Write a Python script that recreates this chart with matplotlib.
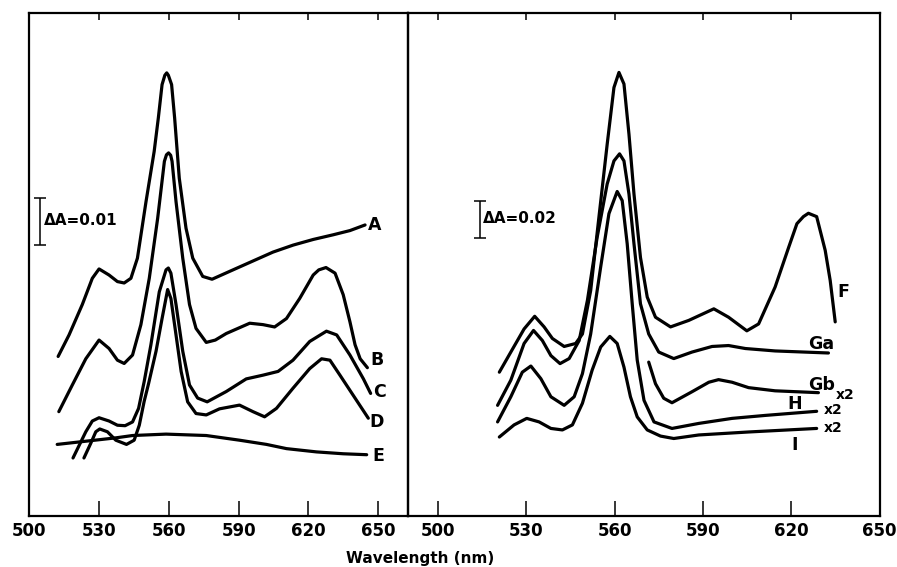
import matplotlib
matplotlib.use("Agg")
import matplotlib.pyplot as plt

plt.rcParams['font.family'] = ['DejaVu Sans']

# ---------------- data (relative absorbance, milli-A units) ----------------
# Left panel (scale bar dA = 0.01 -> 10 mA)
A_wl = [512.4, 517.1, 522.8, 527.1, 530.0, 534.3, 537.9, 540.8, 543.7, 546.5, 550.2, 553.7,
        555.5, 557.1, 558.3, 559.1, 559.8, 561.2, 562.5, 564.5, 567.4, 570.3, 574.6, 578.6,
        587.6, 596.2, 604.8, 613.5, 622.1, 630.7, 637.9, 644.4]
A_val = [34.1, 38.7, 45.2, 50.8, 52.8, 51.5, 50.1, 49.8, 50.8, 55.1, 67.2, 77.9,
         85.1, 92.2, 94.2, 94.7, 94.2, 92.2, 85.1, 72.2, 61.5, 55.1, 51.2, 50.6,
         52.6, 54.5, 56.4, 57.9, 59.1, 60.1, 61.0, 62.2]

B_wl = [512.7, 518.5, 524.3, 530.0, 534.3, 537.9, 540.8, 544.4, 548.0, 551.6, 555.2, 558.1,
        559.0, 559.9, 560.8, 561.4, 563.1, 566.0, 568.9, 571.7, 576.1, 580.0, 584.7, 594.8,
        600.5, 605.5, 610.6, 616.3, 622.1, 624.5, 627.6, 631.5, 635.0, 637.9, 640.1, 642.3,
        645.4]
B_val = [22.3, 28.0, 33.6, 37.6, 35.8, 33.3, 32.6, 34.4, 40.9, 50.8, 63.6, 75.8,
         77.2, 77.6, 77.1, 75.8, 67.2, 55.1, 45.2, 40.1, 37.1, 37.6, 39.0, 41.2,
         40.9, 40.4, 42.2, 46.5, 51.5, 52.6, 53.1, 51.9, 47.3, 41.5, 36.6, 33.6,
         31.7]

C_wl = [518.8, 524.3, 527.1, 530.0, 534.3, 537.9, 541.2, 544.4, 547.0, 549.4, 552.3, 555.9,
        558.8, 559.8, 560.9, 563.1, 566.0, 568.9, 572.4, 576.5, 584.7, 593.3, 600.5, 607.0,
        613.4, 620.6, 627.8, 632.2, 637.9, 643.7, 646.8]
C_val = [12.4, 18.0, 20.3, 21.0, 20.3, 19.4, 19.3, 20.1, 23.0, 28.7, 36.6, 47.9,
         52.6, 53.0, 51.9, 45.2, 35.2, 28.0, 25.2, 24.4, 26.6, 29.3, 30.1, 30.9,
         33.3, 37.3, 39.5, 38.7, 34.4, 29.3, 26.2]

D_wl = [523.5, 526.4, 528.6, 530.3, 533.6, 537.2, 541.8, 545.1, 547.3, 549.4, 551.3, 554.5,
        557.1, 559.5, 560.9, 563.1, 565.3, 568.1, 571.7, 576.1, 581.8, 590.4, 596.2, 601.2,
        606.3, 613.4, 620.6, 625.7, 629.3, 633.6, 639.3, 645.8]
D_val = [12.4, 15.5, 18.0, 18.6, 18.0, 16.2, 15.3, 16.2, 19.4, 24.5, 28.3, 35.2,
         42.2, 48.4, 46.5, 38.7, 30.9, 24.4, 21.9, 21.6, 22.9, 23.7, 22.3, 21.2,
         23.0, 27.3, 31.5, 33.6, 33.3, 30.1, 25.8, 20.9]

E_wl = [512.0, 530.0, 537.2, 544.4, 558.8, 576.1, 590.4, 602.0, 610.6, 623.5, 635.0, 645.1]
E_val = [15.3, 16.3, 16.7, 17.2, 17.5, 17.2, 16.2, 15.3, 14.4, 13.7, 13.3, 13.1]

# Right panel (scale bar dA = 0.02 -> 20 mA)
F_wl = [520.9, 524.8, 529.3, 532.9, 536.1, 538.9, 542.9, 546.8, 549.1, 551.9, 554.7, 557.5,
        559.8, 561.5, 563.2, 564.9, 566.6, 568.8, 571.1, 573.9, 579.0, 585.2, 593.7, 598.7,
        604.9, 608.9, 614.5, 619.1, 621.9, 624.1, 625.8, 628.6, 631.5, 633.2, 634.9]
F_val = [77.2, 88.0, 100.4, 107.2, 101.5, 95.3, 91.0, 92.6, 97.7, 121.0, 160.4, 199.5,
         230.0, 238.1, 231.9, 204.9, 172.8, 138.8, 117.5, 106.7, 101.5, 105.0, 111.2, 106.7,
         99.4, 103.1, 122.9, 144.2, 156.9, 160.7, 162.5, 160.7, 142.6, 126.4, 104.2]

Ga_wl = [520.3, 524.8, 529.3, 532.5, 535.5, 538.4, 541.5, 544.6, 548.0, 550.8, 554.1, 557.5,
         559.8, 561.7, 563.2, 564.9, 566.6, 568.8, 571.6, 575.0, 580.1, 586.3, 593.1, 598.7,
         604.4, 614.5, 632.6]
Ga_val = [59.4, 72.9, 92.6, 99.6, 94.2, 86.1, 81.8, 84.5, 94.2, 115.8, 149.6, 178.2,
          190.6, 194.4, 190.6, 172.8, 146.1, 113.9, 97.7, 88.0, 84.5, 88.0, 91.0, 91.5,
          89.9, 88.6, 87.5]

Gb_wl = [571.6, 573.9, 576.7, 579.5, 586.3, 592.0, 595.3, 599.9, 605.5, 614.5, 629.2]
Gb_val = [82.6, 71.0, 63.2, 60.8, 66.7, 71.8, 73.2, 71.8, 68.9, 67.2, 66.2]

H_wl = [520.3, 524.8, 528.7, 531.6, 535.0, 538.4, 542.9, 546.3, 549.1, 551.9, 555.3, 558.1,
        560.9, 562.6, 564.3, 566.0, 567.7, 570.0, 573.4, 579.5, 588.6, 599.9, 611.2, 628.6]
H_val = [50.5, 64.0, 77.2, 80.5, 73.7, 64.0, 59.4, 64.0, 76.4, 97.7, 133.7, 162.3,
         174.2, 169.3, 146.1, 113.9, 83.7, 62.1, 50.5, 47.0, 49.7, 52.4, 54.0, 56.2]

I_wl = [520.9, 525.9, 530.2, 534.4, 538.4, 542.3, 545.7, 549.1, 552.4, 555.3, 558.4, 560.9,
        563.2, 565.4, 567.7, 571.1, 575.6, 580.1, 588.6, 605.5, 628.6]
I_val = [42.4, 48.9, 52.4, 50.5, 47.0, 46.2, 48.9, 60.5, 78.3, 90.7, 96.4, 92.6,
         79.9, 64.0, 53.2, 46.2, 42.9, 41.6, 43.5, 45.1, 47.0]

xticks = [500, 530, 560, 590, 620, 650]
xtick_labels = ['500', '530', '560', '590', '620', '650']

# ---------------- figure ----------------
W, H = 897, 567
fig = plt.figure(figsize=(W / 100, H / 100), dpi=100)
axL = fig.add_axes([29.3 / W, 51 / H, 379.0 / W, 503 / H])
axR = fig.add_axes([408.3 / W, 51 / H, 471.4 / W, 503 / H])

axL.set_xlim(500, 663)
axL.set_ylim(0, 107.5)
axR.set_xlim(490, 650)
axR.set_ylim(0, 270)

for ax in (axL, axR):
    ax.set_yticks([])
    ax.set_xticks(xticks, xtick_labels, fontsize=12, fontweight='bold')
    ax.tick_params(axis='x', direction='in', top=True, bottom=True,
                   length=11, width=1.1, pad=4)
    for t in ax.xaxis.get_major_ticks():
        t.tick2line.set_markersize(5)
    for s in ax.spines.values():
        s.set_linewidth(1.6)
    ax.set_facecolor('none')

lw = 2.3
style = dict(color='black', lw=lw, solid_joinstyle='round', solid_capstyle='round')

for wl, val in [(A_wl, A_val), (B_wl, B_val), (C_wl, C_val), (D_wl, D_val), (E_wl, E_val)]:
    axL.plot(wl, val, **style)
for wl, val in [(F_wl, F_val), (Ga_wl, Ga_val), (Gb_wl, Gb_val), (H_wl, H_val), (I_wl, I_val)]:
    axR.plot(wl, val, **style)

lab = dict(fontsize=12.5, fontweight='bold', ha='center', va='center')
axL.text(648.5, 62.2, 'A', **lab)
axL.text(649.5, 33.3, 'B', **lab)
axL.text(650.6, 26.6, 'C', **lab)
axL.text(649.5, 20.1, 'D', **lab)
axL.text(650.2, 12.9, 'E', **lab)

axR.text(637.6, 120.2, 'F', **lab)
axR.text(630.3, 92.5, 'Ga', **lab)
axR.text(630.3, 70.2, 'Gb', **lab)
axR.text(621.2, 60.0, 'H', **lab)
axR.text(621.2, 38.0, 'I', **lab)
small = dict(fontsize=10, fontweight='bold', ha='center', va='center')
axR.text(638.2, 64.8, 'x2', **small)
axR.text(634.2, 56.8, 'x2', **small)
axR.text(634.2, 47.5, 'x2', **small)

# scale bars
axL.errorbar([504.8], [63.0], yerr=[5.0], color='black', lw=1.1, capsize=4, capthick=1.1)
axL.text(506.3, 63.2, 'ΔA=0.01', fontsize=11, fontweight='bold', ha='left', va='center')
axR.errorbar([514.3], [159.2], yerr=[10.0], color='black', lw=1.1, capsize=4, capthick=1.1)
axR.text(515.3, 159.6, 'ΔA=0.02', fontsize=11, fontweight='bold', ha='left', va='center')

fig.text(420 / W, 1 - 558 / H, 'Wavelength (nm)', fontsize=11, fontweight='bold',
         ha='center', va='center')

fig.savefig('out.png', dpi=100)
